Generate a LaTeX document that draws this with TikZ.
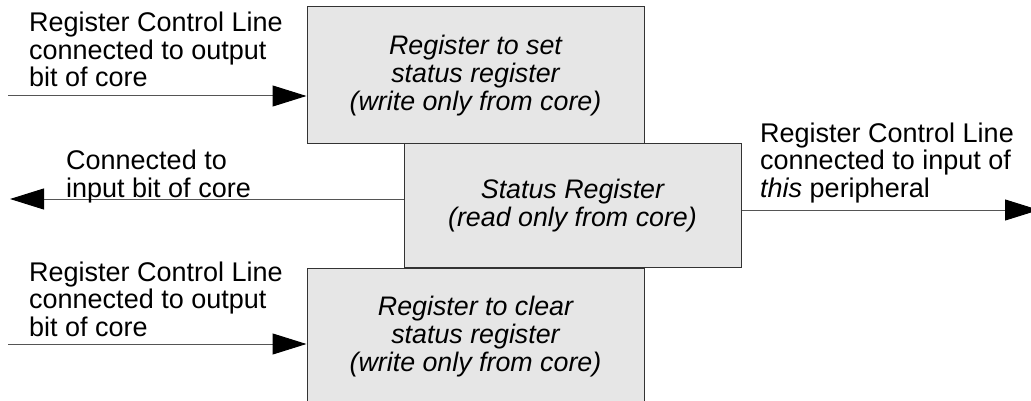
\documentclass[tikz,border=0pt]{standalone}
\usepackage{fontspec}
\setmainfont{Liberation Sans}
\usetikzlibrary{arrows.meta}
\definecolor{regfill}{HTML}{E6E6E6}
\definecolor{regline}{HTML}{333333}
\definecolor{wire}{HTML}{555555}
\begin{document}
\begin{tikzpicture}[x=1pt,y=-1pt,
  txt/.style={font=\fontsize{27}{27.5}\selectfont, inner sep=0pt, align=left, anchor=base west},
  regbox/.style={draw=regline, fill=regfill, line width=1pt, inner sep=0pt,
    minimum width=337pt, align=center, font=\fontsize{26.8}{28}\selectfont\itshape},
  wirearrow/.style={draw=wire, line width=1pt, -{Triangle[length=34pt,width=21pt,fill=black,color=black]}}]
  \useasboundingbox (0,0) rectangle (1031,401);

  % registers
  \node[regbox, minimum height=137pt] (setreg) at (475.5,75.5)
    {Register to set\\status register\\(write only from core)};
  \node[regbox, minimum height=123pt] (statreg) at (572.5,205.5)
    {Status Register\\(read only from core)};
  \node[regbox, minimum height=137pt] (clrreg) at (475.5,336.5)
    {Register to clear\\status register\\(write only from core)};

  % free ends of the control lines
  \coordinate (setin) at (8,96);
  \coordinate (coreout) at (10,199);
  \coordinate (periph) at (1039,210);
  \coordinate (clrin) at (8,344);

  % control lines
  \draw[wirearrow] (setin) -- (setin -| setreg.west);
  \draw[wirearrow] (statreg.west |- coreout) -- (coreout);
  \draw[wirearrow] (statreg.east |- periph) -- (periph);
  \draw[wirearrow] (clrin) -- (clrin -| clrreg.west);

  % labels (anchored at the baseline of their last line)
  \node[txt] (setlbl) at (29,87) {Register Control Line\\connected to output\\bit of core};
  \node[txt] (corelbl) at (66,197) {Connected to\\input bit of core};
  \node[txt] (periphlbl) at (760,197) {Register Control Line\\connected to input of\\\textit{this} peripheral};
  \node[txt] (clrlbl) at (29,336) {Register Control Line\\connected to output\\bit of core};
\end{tikzpicture}
\end{document}
